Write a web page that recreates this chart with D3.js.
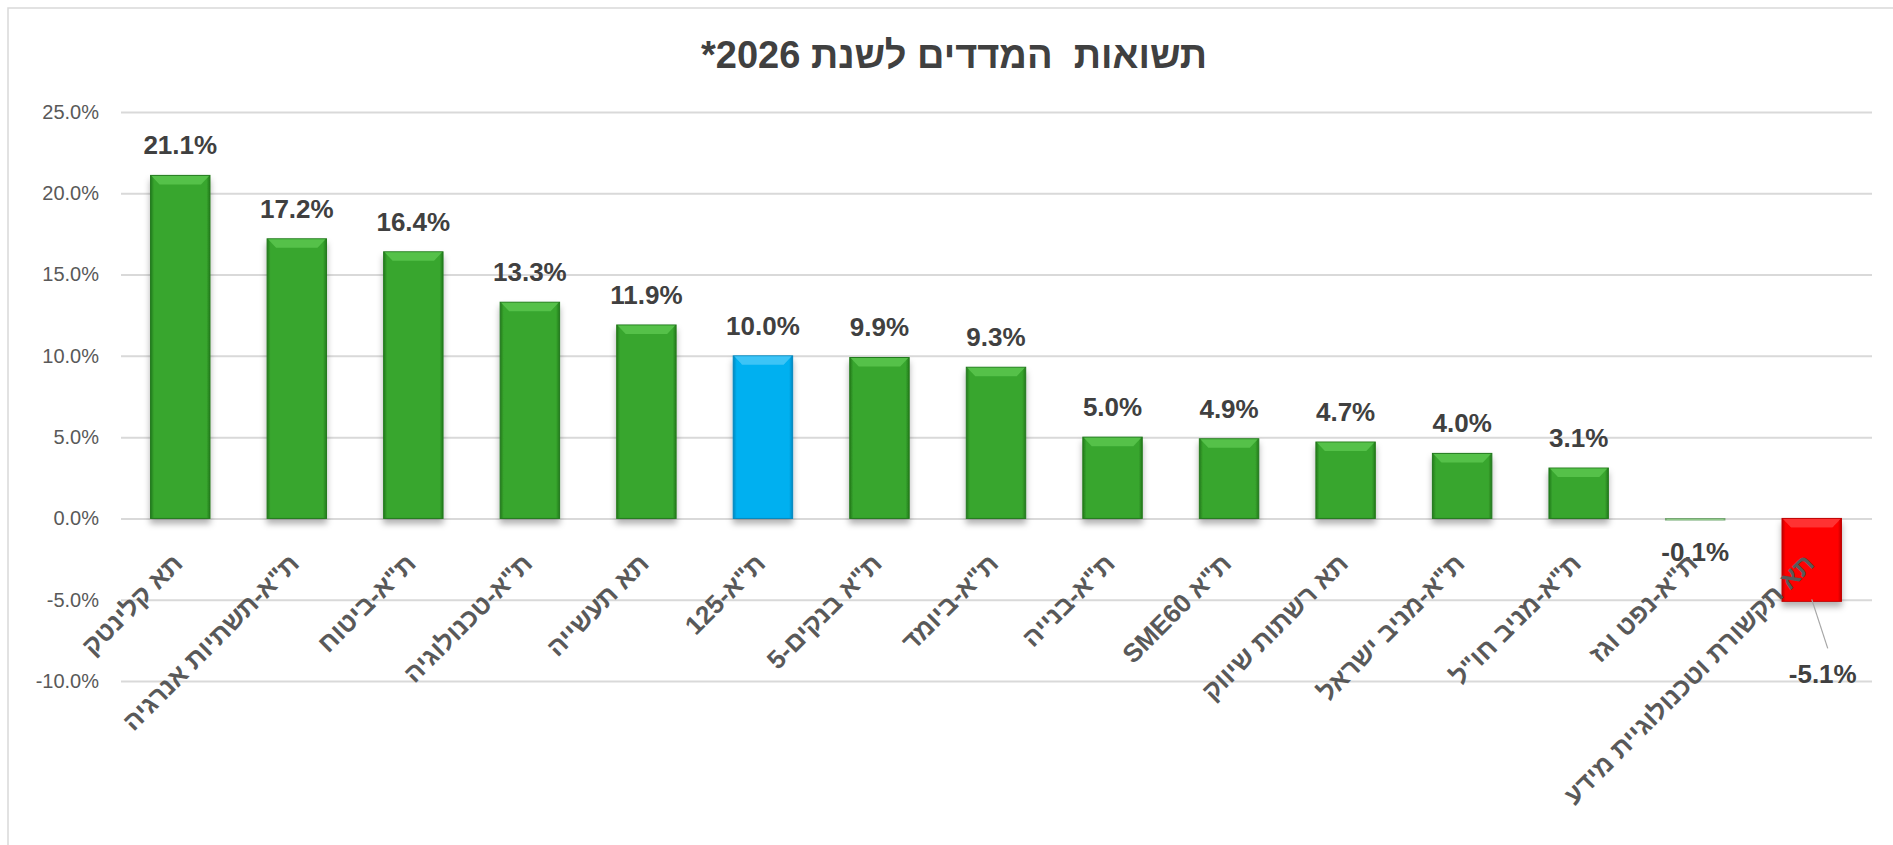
<!DOCTYPE html>
<html lang="he">
<head>
<meta charset="utf-8">
<title>תשואות המדדים לשנת 2026</title>
<script src="https://cdn.jsdelivr.net/npm/d3@7"></script>
<style>
body { margin:0; background:#fff; }
#chart text { font-family:"Liberation Sans", Arial, sans-serif; }
.grid line { stroke:#d9d9d9; stroke-width:2px; }
.grid text { fill:#595959; font-size:20px; }
.cat { fill:#595959; font-size:26px; font-weight:bold; }
.val { fill:#404040; font-size:26px; font-weight:bold; }
</style>
</head>
<body>
<div id="chart"></div>
<script>
// נתונים
var categories = [
	"תא קלינטק",
	"ת\"א-תשתיות אנרגיה",
	"ת\"א-ביטוח",
	"ת\"א-טכנולוגיה",
	"תא תעשייה",
	"ת\"א-125",
	"ת\"א בנקים-5",
	"ת\"א-ביומד",
	"ת\"א-בנייה",
	"ת\"א SME60",
	"תא רשתות שיווק",
	"ת\"א-מניב ישראל",
	"ת\"א-מניב חו\"ל",
	"ת\"א-נפט וגז",
	"תא תקשורת וטכנולוגיית מידע"
];
var returns2026 = [21.1, 17.2, 16.4, 13.3, 11.9, 10.0, 9.9, 9.3, 5.0, 4.9, 4.7, 4.0, 3.1, -0.1, -5.1];
var yTicks = [-10, -5, 0, 5, 10, 15, 20, 25];
var title = "תשואות  המדדים לשנת 2026*";

// צבעים מיוחדים לנקודות
var pointColor = {
	"ת\"א-125": ["#00b0f0", "#4cc9f7", "#0088c0"],
	"תא תקשורת וטכנולוגיית מידע": ["#ff0000", "#ff4040", "#c00000"]
};
var defColor = ["#38a62e", "#5cc850", "#237a1c"];

var W = 1893, H = 845;
var svg = d3.select("#chart").append("svg").attr("width", W).attr("height", H);

// מסגרת
svg.append("rect").attr("x", 8).attr("y", 8).attr("width", W).attr("height", H)
	.attr("fill", "none").attr("stroke", "#d9d9d9").attr("stroke-width", 1.5);

var x = d3.scaleBand().domain(categories).range([122, 1870]).paddingInner(0.49).paddingOuter(0.245);
var y = d3.scaleLinear().domain([-10, 25]).range([681, 112]);

// shadow
var defs = svg.append("defs");
var f = defs.append("filter").attr("id", "shadow").attr("x", "-20%").attr("y", "-20%").attr("width", "140%").attr("height", "140%");
f.append("feDropShadow").attr("dx", 0).attr("dy", 5).attr("stdDeviation", 3)
	.attr("flood-color", "#000").attr("flood-opacity", 0.3);

function colorOf(c){ return pointColor[c] || defColor; }
categories.forEach(function(c, i){
	var col = colorOf(c);
	var g = defs.append("linearGradient").attr("id", "side" + i).attr("x1", 0).attr("x2", 1).attr("y1", 0).attr("y2", 0);
	g.append("stop").attr("offset", "0%").attr("stop-color", col[2]);
	g.append("stop").attr("offset", "6%").attr("stop-color", col[0]);
	g.append("stop").attr("offset", "94%").attr("stop-color", col[0]);
	g.append("stop").attr("offset", "100%").attr("stop-color", col[2]);
});

// grid + y axis
var yAxis = d3.axisLeft(y).tickValues(yTicks).tickSize(-(1872 - 121)).tickPadding(22)
	.tickFormat(function(d){ return d.toFixed(1) + "%"; });
var grid = svg.append("g").attr("class", "grid").attr("transform", "translate(121,0)").call(yAxis);
grid.select(".domain").remove();

// title
svg.append("text")
	.attr("x", 954).attr("y", 68)
	.attr("direction", "rtl")
	.attr("text-anchor", "middle")
	.style("white-space", "pre")
	.style("font-size", "38px").style("font-weight", "bold").style("fill", "#404040")
	.text(title);

// bars
var bw = x.bandwidth();
var bars = svg.append("g").selectAll("g").data(categories).enter().append("g")
	.attr("filter", "url(#shadow)")
	.attr("opacity", function(d, i){ return Math.abs(returns2026[i]) < 0.5 ? 0.55 : 1; });
bars.append("rect")
	.attr("x", function(d){ return x(d); })
	.attr("y", function(d, i){ return y(Math.max(0, returns2026[i])); })
	.attr("width", bw)
	.attr("height", function(d, i){ return Math.abs(y(returns2026[i]) - y(0)); })
	.attr("fill", function(d, i){ return "url(#side" + i + ")"; })
	.attr("stroke", function(d){ return colorOf(d)[2]; })
	.attr("stroke-width", 1);
// bevel on top
bars.append("polygon")
	.attr("points", function(d, i){
		var x0 = x(d), top = y(Math.max(0, returns2026[i]));
		var h = Math.abs(y(returns2026[i]) - y(0));
		var b = Math.min(9, h);
		return [[x0 + 1, top + 0.5], [x0 + bw - 1, top + 0.5], [x0 + bw - b, top + b], [x0 + b, top + b]].join(" ");
	})
	.attr("fill", function(d){ return colorOf(d)[1]; })
	.attr("opacity", 0.8);

// value labels
var moved = { 14: [11, 683] };	// label moved by hand in the original, with leader line
svg.append("g").selectAll("text").data(returns2026).enter().append("text")
	.attr("class", "val")
	.attr("text-anchor", "middle")
	.attr("x", function(d, i){ return moved[i] ? x(categories[i]) + bw / 2 + moved[i][0] : x(categories[i]) + bw / 2; })
	.attr("y", function(d, i){
		if (moved[i]) return moved[i][1];
		return d >= 0 ? y(d) - 21 : y(d) + 41;
	})
	.text(function(d){ return d.toFixed(1) + "%"; });
// leader line
Object.keys(moved).forEach(function(k){
	var cx = x(categories[k]) + bw / 2;
	svg.append("line")
		.attr("x1", cx).attr("y1", y(returns2026[k]) - 2)
		.attr("x2", cx + 16).attr("y2", y(returns2026[k]) + 47)
		.attr("stroke", "#a6a6a6").attr("stroke-width", 1.2);
});

// category labels
svg.append("g").selectAll("text").data(categories).enter().append("text")
	.attr("class", "cat")
	.attr("direction", "rtl")
	.attr("text-anchor", "start")
	.attr("transform", function(d){ return "translate(" + (x(d) + bw / 2 + 4) + ",565) rotate(-45)"; })
	.text(function(d){ return d; });
</script>
</body>
</html>
